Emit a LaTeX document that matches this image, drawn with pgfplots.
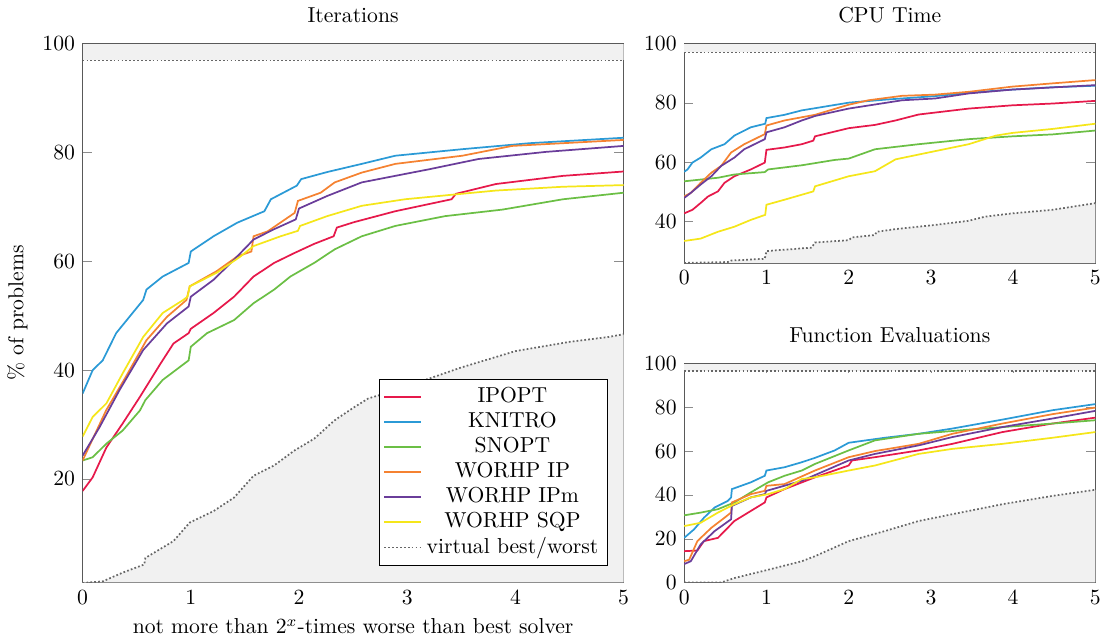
\documentclass[border=0pt]{standalone}
\usepackage{pgfplots}
\pgfplotsset{compat=1.18}

\definecolor{cipopt}{HTML}{E6194B}
\definecolor{cknitro}{HTML}{2B9AD6}
\definecolor{csnopt}{HTML}{6BBF45}
\definecolor{cwip}{HTML}{F58231}
\definecolor{cwipm}{HTML}{6A3D9A}
\definecolor{cwsqp}{HTML}{F5E61A}
\definecolor{vband}{HTML}{F1F1F1}

\pgfplotsset{
  prof/.style={
    scale only axis,
    xmin=0, xmax=5,
    xtick={0,1,2,3,4,5},
    axis line style={black!65},
    tick style={black!45},
  },
  s/.style={draw=#1, line width=0.8pt},
  vfill/.style={fill=vband, draw=none, forget plot},
  vline/.style={draw=black!60, densely dotted, line width=0.8pt},
}

\begin{document}
\begin{tikzpicture}
% ---------------- Iterations ----------------
\begin{axis}[prof,
  name=it,
  at={(0,0)}, anchor=south west,
  width=250pt, height=249pt,
  ymin=1, ymax=100,
  ytick={20,40,60,80,100},
  title={Iterations},
  xlabel={not more than $2^x$-times worse than best solver},
  ylabel={\% of problems},
  legend pos=south east,
  legend cell align=center,
  legend style={draw=black, fill=white, row sep=-1pt, inner sep=2pt},
]
\addplot[vfill] coordinates {(0,96.9) (5,96.9) (5,100) (0,100)} -- cycle;
\addplot[vfill] coordinates {(0,0.9)(0.186,1.2)(0.37,2.8)(0.57,4.3)(0.58,5.5)(0.84,8.6)(0.99,12.0)(1.21,14.1)(1.40,16.6)(1.58,20.6)(1.77,22.5)(1.955,25.2)(2.14,27.4)(2.33,30.8)(2.51,33.2)(2.64,34.8)(2.89,36.3)(3.5,40.5)(4,43.5)(4.5,45.2)(4.86,46.1)(5,46.6)} \closedcycle;

\addplot[s=cipopt] coordinates {(0,17.8)(0.093,20.3)(0.22,25.8)(0.37,30.2)(0.53,35.1)(0.72,41.2)(0.84,44.9)(0.98,46.8)(1.0,47.6)(1.21,50.5)(1.40,53.5)(1.58,57.2)(1.77,59.7)(1.955,61.5)(2.14,63.2)(2.32,64.6)(2.35,66.2)(2.51,67.2)(2.89,69.2)(3.41,71.4)(3.45,72.4)(3.82,74.2)(4.44,75.7)(5,76.5)};
\addlegendentry{IPOPT}
\addplot[s=cknitro] coordinates {(0,35.7)(0.093,40)(0.186,41.8)(0.31,46.8)(0.56,52.9)(0.59,54.8)(0.74,57.2)(0.98,59.7)(1.0,61.8)(1.21,64.6)(1.43,67.1)(1.68,69.2)(1.74,71.4)(1.98,73.9)(2.02,75.1)(2.26,76.4)(2.58,77.9)(2.89,79.4)(3.51,80.6)(4.13,81.7)(5,82.7)};
\addlegendentry{KNITRO}
\addplot[s=csnopt] coordinates {(0,23.4)(0.093,24.0)(0.22,26.5)(0.37,28.9)(0.53,32.6)(0.58,34.5)(0.74,38.2)(0.98,41.8)(1.0,44.3)(1.15,46.8)(1.40,49.2)(1.58,52.3)(1.77,54.8)(1.92,57.2)(2.14,59.7)(2.33,62.2)(2.58,64.6)(2.89,66.5)(3.35,68.3)(3.88,69.5)(4.44,71.4)(5,72.6)};
\addlegendentry{SNOPT}
\addplot[s=cwip] coordinates {(0,23.4)(0.217,32.6)(0.40,38.8)(0.59,45.5)(0.78,49.8)(0.96,52.9)(0.99,55.4)(1.24,58.2)(1.43,60.9)(1.56,61.8)(1.58,64.6)(1.71,65.5)(1.96,68.9)(1.99,71.1)(2.2,72.6)(2.33,74.5)(2.58,76.3)(2.89,77.9)(3.51,79.4)(3.97,81.2)(4.44,81.7)(5,82.3)};
\addlegendentry{WORHP IP}
\addplot[s=cwipm] coordinates {(0,24.3)(0.156,29.5)(0.34,36.3)(0.56,43.7)(0.78,48.6)(0.98,51.7)(1.0,53.5)(1.21,56.6)(1.40,60.3)(1.58,64.0)(1.77,65.9)(1.97,67.7)(2.0,69.7)(2.26,72.0)(2.58,74.5)(3.20,76.9)(3.66,78.8)(4.28,80.1)(5,81.2)};
\addlegendentry{WORHP IPm}
\addplot[s=cwsqp] coordinates {(0,27.8)(0.093,31.4)(0.22,33.9)(0.37,39.4)(0.56,46.1)(0.74,50.5)(0.93,52.9)(0.97,53.5)(0.99,55.4)(1.24,57.9)(1.46,60.9)(1.58,62.8)(1.83,64.6)(1.99,65.6)(2.01,66.5)(2.26,68.3)(2.58,70.2)(2.98,71.4)(3.45,72.3)(3.82,73.0)(4.44,73.7)(5,74.0)};
\addlegendentry{WORHP SQP}
\addplot[vline] coordinates {(0,96.9) (5,96.9)};
\addlegendentry{virtual best/worst}
\addplot[vline, forget plot] coordinates {(0,0.9)(0.186,1.2)(0.37,2.8)(0.57,4.3)(0.58,5.5)(0.84,8.6)(0.99,12.0)(1.21,14.1)(1.40,16.6)(1.58,20.6)(1.77,22.5)(1.955,25.2)(2.14,27.4)(2.33,30.8)(2.51,33.2)(2.64,34.8)(2.89,36.3)(3.5,40.5)(4,43.5)(4.5,45.2)(4.86,46.1)(5,46.6)};
\end{axis}

% ---------------- CPU Time ----------------
\begin{axis}[prof,
  at={(278pt,249pt)}, anchor=north west,
  width=190pt, height=101.5pt,
  ymin=26, ymax=100,
  ytick={40,60,80,100},
  title={CPU Time},
]
\addplot[vfill] coordinates {(0,97) (5,97) (5,100) (0,100)} -- cycle;
\addplot[vfill] coordinates {(0,26.1)(0.53,26.4)(0.57,26.9)(0.98,27.5)(1.0,30.1)(1.55,31.25)(1.59,33)(2.0,33.75)(2.04,34.7)(2.32,35.5)(2.34,36.6)(2.57,37.5)(3.05,38.9)(3.46,40.3)(3.66,41.7)(3.99,42.8)(4.48,44)(5,46.25)} \closedcycle;
\addplot[s=cipopt] coordinates {(0,42.8)(0.1,44.0)(0.2,46.3)(0.29,48.5)(0.41,50.2)(0.49,53.1)(0.61,55.3)(0.81,57.6)(0.98,59.9)(1.0,64.2)(1.22,65.0)(1.43,66.1)(1.57,67.3)(1.59,68.75)(2.0,71.5)(2.32,72.6)(2.57,74.1)(2.85,76.1)(3.46,78.1)(3.99,79.2)(4.48,79.8)(5,80.7)};
\addplot[s=cknitro] coordinates {(0,56.8)(0.04,57.6)(0.1,59.9)(0.2,61.6)(0.33,64.4)(0.49,66.1)(0.61,69.0)(0.81,71.8)(0.985,73.0)(1.0,74.9)(1.22,76.0)(1.43,77.5)(1.63,78.4)(2.0,80.1)(2.44,81.1)(3.05,82.3)(3.46,83.4)(3.87,84.3)(4.48,85.3)(5,85.8)};
\addplot[s=csnopt] coordinates {(0,53.6)(0.41,54.8)(0.61,55.9)(0.98,56.7)(1.02,57.6)(1.43,59.0)(1.83,60.8)(2.0,61.25)(2.32,64.4)(2.85,66.1)(3.46,67.8)(3.99,68.75)(4.48,69.4)(5,70.7)};
\addplot[s=cwip] coordinates {(0,48.5)(0.08,49.7)(0.2,53.1)(0.33,56.5)(0.45,58.8)(0.57,63.3)(0.73,66.1)(0.98,69.5)(1.0,72.4)(1.22,74.1)(1.59,76.0)(2.0,79.4)(2.24,80.9)(2.65,82.4)(3.05,82.8)(3.46,83.75)(3.99,85.5)(4.48,86.6)(5,87.7)};
\addplot[s=cwipm] coordinates {(0,48.0)(0.08,49.7)(0.2,52.5)(0.33,55.3)(0.45,58.8)(0.61,61.6)(0.73,64.4)(0.98,67.8)(1.0,70.1)(1.22,71.8)(1.43,74.1)(1.59,75.6)(2.0,78.1)(2.65,80.9)(3.05,81.5)(3.46,83.2)(3.99,84.5)(5,86.0)};
\addplot[s=cwsqp] coordinates {(0,33.5)(0.2,34.3)(0.41,36.6)(0.61,38.3)(0.81,40.6)(0.985,42.3)(1.0,45.7)(1.22,47.4)(1.57,50.2)(1.59,51.9)(2.0,55.3)(2.32,57.0)(2.57,61.0)(2.97,63.3)(3.46,66.1)(3.79,69.0)(3.99,69.9)(4.48,71.25)(5,73.0)};
\addplot[vline] coordinates {(0,97) (5,97)};
\addplot[vline] coordinates {(0,26.1)(0.53,26.4)(0.57,26.9)(0.98,27.5)(1.0,30.1)(1.55,31.25)(1.59,33)(2.0,33.75)(2.04,34.7)(2.32,35.5)(2.34,36.6)(2.57,37.5)(3.05,38.9)(3.46,40.3)(3.66,41.7)(3.99,42.8)(4.48,44)(5,46.25)};
\end{axis}

% ---------------- Function Evaluations ----------------
\begin{axis}[prof,
  at={(278pt,0pt)}, anchor=south west,
  width=190pt, height=101pt,
  ymin=0, ymax=100,
  ytick={0,20,40,60,80,100},
  title={Function Evaluations},
]
\addplot[vfill] coordinates {(0,96.9) (5,96.9) (5,100) (0,100)} -- cycle;
\addplot[vfill] coordinates {(0,0)(0.45,0)(0.61,2.0)(1.02,5.8)(1.43,9.7)(1.59,12)(2,18.9)(2.44,23.5)(2.85,28.1)(3.26,31.2)(3.87,35.8)(4.48,39.6)(5,42.4)} \closedcycle;
\addplot[s=cipopt] coordinates {(0,14.3)(0.16,14.6)(0.24,18.9)(0.41,20.4)(0.61,28.1)(0.81,32.7)(0.98,36.6)(1.0,38.9)(1.22,42.7)(1.59,48.1)(2,53.5)(2.04,55.8)(2.32,57.3)(2.85,60.4)(3.26,63.4)(3.87,68.8)(4.48,72.7)(5,75.4)};
\addplot[s=cknitro] coordinates {(0,20.4)(0.12,24.3)(0.24,29.6)(0.37,34.3)(0.53,37.3)(0.57,38.9)(0.58,42.7)(0.81,45.8)(0.98,48.8)(1.0,51.2)(1.22,52.7)(1.43,55.0)(1.59,57.0)(1.83,60.4)(2,63.9)(2.44,66.2)(2.85,68.0)(3.26,70.4)(3.87,74.5)(4.48,78.8)(5,81.6)};
\addplot[s=csnopt] coordinates {(0,30.7)(0.2,31.95)(0.41,33.5)(0.61,36.6)(0.81,41.2)(1.02,45.8)(1.22,48.8)(1.43,51.2)(1.59,54.2)(2,60.4)(2.32,65.0)(2.85,68.0)(3.46,69.9)(3.99,71.4)(4.48,72.7)(5,74.2)};
\addplot[s=cwip] coordinates {(0,9.7)(0.06,10.4)(0.16,18.9)(0.33,25.0)(0.49,29.6)(0.57,32.0)(0.58,36.6)(0.81,40.4)(0.98,41.9)(1.0,44.2)(1.22,45.0)(1.59,51.2)(2.0,57.3)(2.32,60.1)(2.85,63.4)(3.26,68.0)(3.87,72.7)(4.48,77.0)(5,80.0)};
\addplot[s=cwipm] coordinates {(0,8.4)(0.08,9.7)(0.2,17.4)(0.37,23.5)(0.57,28.9)(0.58,35.0)(0.81,38.9)(0.98,40.4)(1.0,41.9)(1.43,46.5)(2,55.8)(2.32,58.8)(2.85,62.7)(3.26,66.5)(3.87,71.1)(4.48,75.0)(5,78.5)};
\addplot[s=cwsqp] coordinates {(0,25.8)(0.2,27.3)(0.41,31.95)(0.61,35.8)(0.81,38.9)(1.02,40.4)(1.22,42.7)(1.43,47.3)(1.59,48.1)(2,51.2)(2.32,53.5)(2.85,58.8)(3.26,61.1)(3.87,63.4)(4.48,66.2)(5,68.8)};
\addplot[vline] coordinates {(0,96.9) (5,96.9)};
\addplot[vline] coordinates {(0,0)(0.45,0)(0.61,2.0)(1.02,5.8)(1.43,9.7)(1.59,12)(2,18.9)(2.44,23.5)(2.85,28.1)(3.26,31.2)(3.87,35.8)(4.48,39.6)(5,42.4)};
\end{axis}
\end{tikzpicture}
\end{document}
